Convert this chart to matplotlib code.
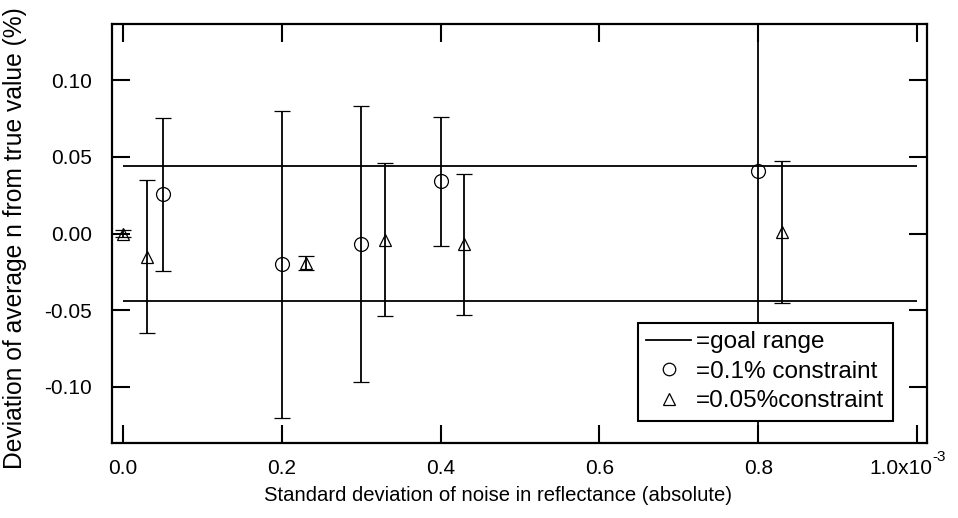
import matplotlib
matplotlib.use("Agg")
import matplotlib.pyplot as plt
from matplotlib.lines import Line2D
from matplotlib.transforms import ScaledTranslation

plt.rcParams['font.family'] = ['Liberation Sans', 'DejaVu Sans']

# ---- data ----
circle_x = [0.05e-3, 0.20e-3, 0.30e-3, 0.40e-3, 0.80e-3]
circle_y = [0.0255, -0.020, -0.007, 0.034, 0.041]
circle_err = [0.050, 0.100, 0.090, 0.042, 0.200]

tri_x = [0.00e-3, 0.03e-3, 0.23e-3, 0.33e-3, 0.43e-3, 0.83e-3]
tri_y = [0.000, -0.015, -0.019, -0.004, -0.007, 0.001]
tri_err = [0.002, 0.050, 0.0045, 0.050, 0.046, 0.046]

goal = 0.044
goal_x = [0.0, 1.0e-3]

xticks = [0.0, 0.2e-3, 0.4e-3, 0.6e-3, 0.8e-3, 1.0e-3]
xticklabels = ["0.0", "0.2", "0.4", "0.6", "0.8", "1.0x10"]
x_exponent = "-3"
yticks = [-0.10, -0.05, 0.00, 0.05, 0.10]
yticklabels = ["-0.10", "-0.05", "0.00", "0.05", "0.10"]

legend_labels = ["=goal range", "=0.1% constraint", "=0.05%constraint"]

# ---- figure ----
fig = plt.figure(figsize=(9.58, 5.18), dpi=100)
ax = fig.add_axes([112/958, 1-443/518, (927-112)/958, (443-24)/518])

lw = 1.3
ax.hlines([goal, -goal], goal_x[0], goal_x[1], color='black', lw=lw, zorder=2)

ax.errorbar(circle_x, circle_y, yerr=circle_err, fmt='o', mfc='none', mec='black',
            ms=10, mew=0.9, ecolor='black', elinewidth=lw, capsize=5.5, capthick=lw, zorder=3)
ax.errorbar(tri_x, tri_y, yerr=tri_err, fmt='^', mfc='none', mec='black',
            ms=9, mew=0.9, ecolor='black', elinewidth=lw, capsize=5.5, capthick=lw, zorder=3)

ax.set_xlim(-0.0139e-3, 1.0126e-3)
ax.set_ylim(-0.1366, 0.1366)

tick_fs = 15
ax.set_xticks(xticks)
ax.set_xticklabels(xticklabels, fontsize=tick_fs)
ax.set_yticks(yticks)
ax.set_yticklabels(yticklabels, fontsize=tick_fs)

ax.tick_params(direction='in', length=13, width=1.5, top=True, right=True, colors='black')
ax.tick_params(axis='y', pad=14.5)
ax.tick_params(axis='x', pad=11.5)
for s in ax.spines.values():
    s.set_linewidth(1.6)

# shift the last x tick label left so that label + exponent sit like the original
last = ax.get_xticklabels()[-1]
last.set_transform(last.get_transform() + ScaledTranslation(-16/100, 0, fig.dpi_scale_trans))
ax.annotate(x_exponent, xy=(xticks[-1], 0), xycoords=('data', 'axes fraction'),
            xytext=(11, -5), textcoords='offset points', ha='left', va='top',
            fontsize=11)

ax.set_xlabel("Standard deviation of noise in reflectance (absolute)",
              fontsize=14.6, va='top')
ax.set_ylabel("Deviation of average n from true value (%)", fontsize=17.7)
ax.xaxis.set_label_coords((498.5-112)/815, -0.102)
ax.yaxis.set_label_coords(-0.104, 0.490)

handles = [
    Line2D([], [], color='black', lw=lw),
    Line2D([], [], ls='none', marker='o', mfc='none', mec='black', ms=9, mew=0.9),
    Line2D([], [], ls='none', marker='^', mfc='none', mec='black', ms=8, mew=0.9),
]
leg = ax.legend(handles, legend_labels, loc='lower right', bbox_to_anchor=(0.958, 0.0525),
                borderaxespad=0, prop={'family': 'Liberation Sans', 'size': 17.5},
                frameon=True, fancybox=False, edgecolor='black', framealpha=1,
                handlelength=1.85, handletextpad=0.2, labelspacing=0.31, borderpad=0.35)
leg.get_frame().set_linewidth(1.5)

fig.savefig("out.png", dpi=100)
